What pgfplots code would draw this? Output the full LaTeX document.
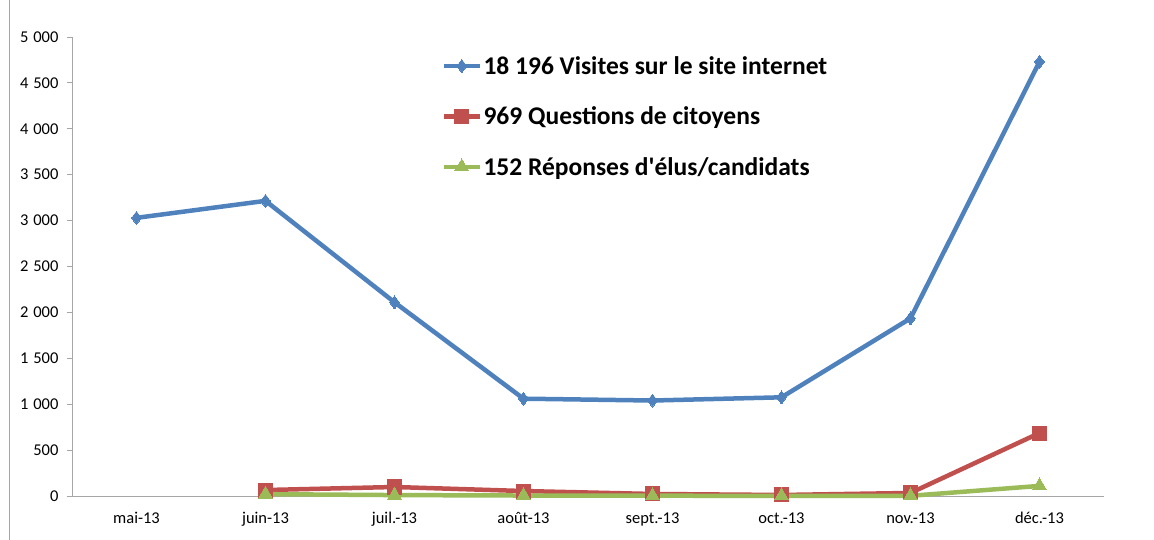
\documentclass[border=0pt]{standalone}
\usepackage{fontspec}
\setmainfont{Carlito}
\usepackage{pgfplots}
\pgfplotsset{compat=1.18}
\definecolor{cblue}{HTML}{4F81BD}
\definecolor{cred}{HTML}{C0504D}
\definecolor{cgreen}{HTML}{9BBB59}
\definecolor{axgray}{HTML}{A6A6A6}
\newcommand{\ts}{\hspace{0.3em}}
\begin{document}
\begin{tikzpicture}[x=1pt,y=1pt]
\path[use as bounding box] (-72,-44) rectangle (1082,496);
\draw[axgray, line width=1pt] (-62,-44) -- (-62,496);
\begin{axis}[
  at={(0,0)}, anchor=south west,
  scale only axis, width=1032pt, height=459pt,
  xmin=-0.5, xmax=7.5, ymin=0, ymax=5000,
  axis lines=left,
  axis line style={-, axgray, line width=0.8pt},
  ytick={0,500,...,5000},
  yticklabels={0,500,1\ts000,1\ts500,2\ts000,2\ts500,3\ts000,3\ts500,4\ts000,4\ts500,5\ts000},
  xtick={0,...,7},
  xticklabels={mai-13,juin-13,juil.-13,août-13,sept.-13,oct.-13,nov.-13,déc.-13},
  xtick style={draw=none},
  minor xtick={-0.5,0.5,...,7.5},
  minor tick length=5pt,
  major tick length=5pt,
  tick align=outside,
  minor tick style={axgray, line width=0.8pt},
  ytick style={axgray, line width=0.8pt},
  ticklabel style={font=\fontsize{16.5}{18}\selectfont, black},
  xticklabel style={yshift=-8pt},
  yticklabel style={xshift=-5pt},
  clip=false,
  legend style={draw=none, fill=none, at={(0.355,0.967)}, anchor=north west,
    font=\fontsize{25.5}{28}\selectfont\bfseries, row sep=27pt,
    nodes={inner xsep=1.5pt},
    /tikz/every odd column/.append style={column sep=0pt}},
  legend cell align=left,
  legend image code/.code={\draw[mark repeat=2,mark phase=2] plot coordinates {(0pt,0pt) (18pt,0pt) (36pt,0pt)};},
]
\addplot[cblue, line width=4.5pt, mark=diamond*, mark size=6.5pt, mark options={line width=0pt}]
  coordinates {(0,3030) (1,3215) (2,2110) (3,1060) (4,1040) (5,1075) (6,1935) (7,4730)};
\addlegendentry{18 196 Visites sur le site internet}
\addplot[cred, line width=4.5pt, mark=square*, mark size=7pt, mark options={line width=0pt}]
  coordinates {(1,65) (2,98) (3,54) (4,22) (5,11) (6,33) (7,686)};
\addlegendentry{969 Questions de citoyens}
\addplot[cgreen, line width=4.5pt, mark=triangle*, mark size=8pt, mark options={line width=0pt}]
  coordinates {(1,20) (2,10) (3,5) (4,3) (5,2) (6,2) (7,110)};
\addlegendentry{152 Réponses d\textquotesingle élus/candidats}
\end{axis}
\end{tikzpicture}
\end{document}
